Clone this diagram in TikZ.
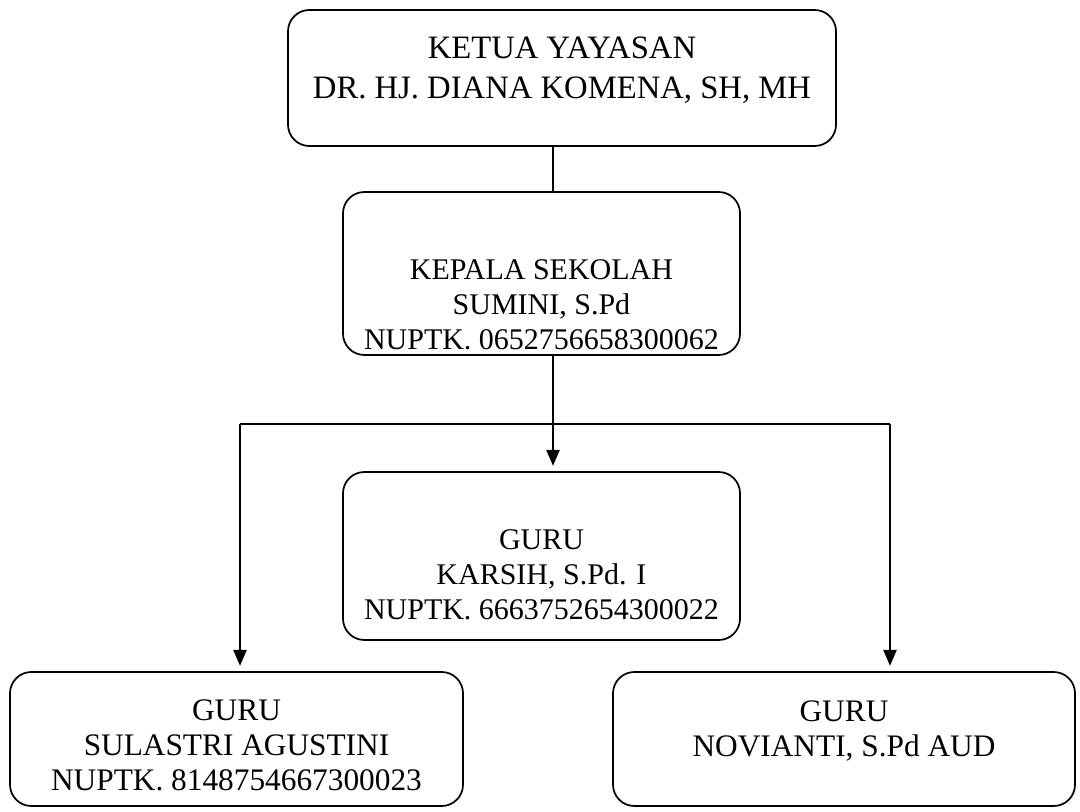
\documentclass[tikz,border=0pt]{standalone}
\usepackage{fontspec}
\setmainfont{Liberation Serif}
\usetikzlibrary{arrows.meta}
\begin{document}
\begin{tikzpicture}[x=0.75pt,y=-0.75pt,
  box/.style={draw, line width=1.3pt, rounded corners=16pt, inner sep=0pt},
  txt/.style={align=center, font=\fontsize{22.5}{26.25}\selectfont, inner sep=0pt},
  bigtxt/.style={txt, font=\fontsize{23.5}{26.25}\selectfont},
  toptxt/.style={txt, font=\fontsize{24.5}{30}\selectfont},
  conn/.style={line width=1.2pt},
  arr/.style={conn, -{Triangle[length=12pt,width=10pt]}, shorten >=4pt}]
\useasboundingbox (0,0) rectangle (1080,812);
% boxes
\node[box, minimum width=411pt, minimum height=102pt] (top) at (562,78) {};
\node[box, minimum width=297.75pt, minimum height=122.25pt] (kep) at (541.5,273.5) {};
\node[box, minimum width=297.75pt, minimum height=126pt] (mid) at (541.5,556) {};
\node[box, minimum width=339.75pt, minimum height=100.5pt] (lft) at (236.5,739) {};
\node[box, minimum width=346.5pt, minimum height=100.5pt] (rgt) at (844,739) {};
% texts
\node[toptxt] (ttop) at (562,70) {KETUA YAYASAN\\DR. HJ. DIANA KOMENA, SH, MH};
\node[txt] (tkep) at (541.5,304.5) {KEPALA SEKOLAH\\SUMINI, S.Pd\\NUPTK. 0652756658300062};
\node[txt] (tmid) at (541.5,574.5) {GURU\\KARSIH, S.Pd. I\\NUPTK. 6663752654300022};
\node[bigtxt] (tlft) at (236.5,745) {GURU\\SULASTRI AGUSTINI\\NUPTK. 8148754667300023};
\node[bigtxt] (trgt) at (844,731) {GURU\\NOVIANTI, S.Pd AUD};
% connectors
\coordinate (j) at (553,424);
\coordinate (jl) at (240,424);
\coordinate (jr) at (890,424);
\draw[conn] (j |- top.south) -- (j |- kep.north);
\draw[conn] (j |- kep.south) -- (j);
\draw[conn] (jl) -- (jr);
\draw[arr] (j) -- (j |- mid.north);
\draw[arr] (jl) -- (jl |- lft.north);
\draw[arr] (jr) -- (jr |- rgt.north);
\end{tikzpicture}
\end{document}
